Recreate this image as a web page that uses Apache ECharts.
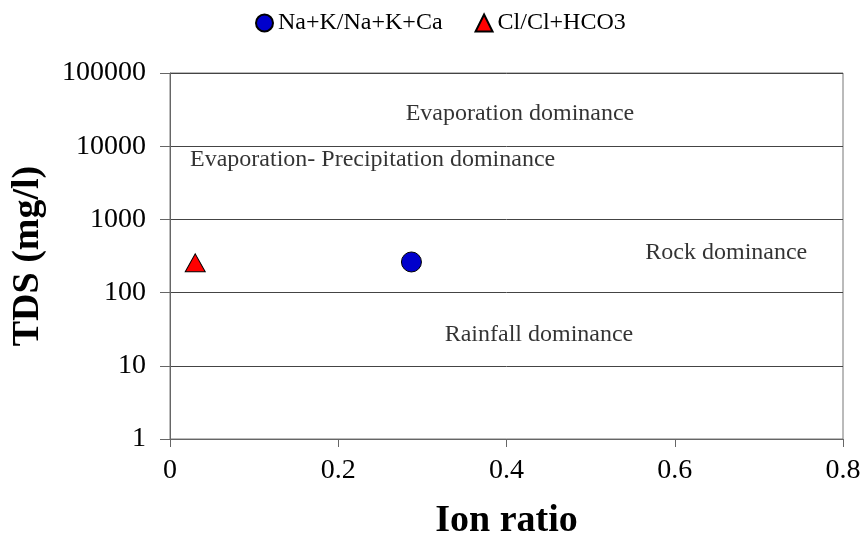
<!DOCTYPE html>
<html>
<head>
<meta charset="utf-8">
<script src="https://cdn.jsdelivr.net/npm/echarts@6/dist/echarts.min.js"></script>
<style>html,body{margin:0;padding:0;background:#fff}#c{width:863px;height:537px}</style>
</head>
<body>
<div id="c"></div>
<script>
const seriesNames = ['Na+K/Na+K+Ca', 'Cl/Cl+HCO3'];
const naKRatio = [[0.287, 262]];
const clRatio = [[0.03, 255]];
const zoneLabels = ['Evaporation dominance', 'Evaporation- Precipitation dominance', 'Rock dominance', 'Rainfall dominance'];
const zonePositions = [[0.416, 28000], [0.0238, 6500], [0.565, 350], [0.4386, 27]];
const zoneAlign = ['center', 'left', 'left', 'center'];
const xTicks = [0, 0.2, 0.4, 0.6, 0.8];
const yTicks = [1, 10, 100, 1000, 10000, 100000];

const font = '"Liberation Serif", "Times New Roman", serif';
const chart = echarts.init(document.getElementById('c'));
chart.setOption({
  animation: false,
  textStyle: { fontFamily: font },
  legend: {
    top: 6, left: 250,
    itemWidth: 17, itemHeight: 17, itemGap: 32,
    textStyle: { fontFamily: font, fontSize: 24, color: '#000' },
    data: seriesNames
  },
  grid: { left: 170, right: 20, top: 73, bottom: 98, show: true, borderColor: '#777', borderWidth: 1,
    containLabel: false, outerBoundsMode: 'none' },
  xAxis: {
    type: 'value', min: xTicks[0], max: xTicks[xTicks.length - 1], interval: 0.2,
    name: 'Ion ratio', nameLocation: 'middle', nameGap: 63,
    nameTextStyle: { fontFamily: font, fontSize: 38, fontWeight: 'bold', color: '#000' },
    axisLine: { lineStyle: { color: '#666' } },
    axisTick: { show: true, length: 8, lineStyle: { color: '#666' } },
    axisLabel: { fontFamily: font, fontSize: 28, color: '#000', margin: 18 },
    splitLine: { show: false }
  },
  yAxis: {
    type: 'log', logBase: 10, min: yTicks[0], max: yTicks[yTicks.length - 1],
    name: 'TDS (mg/l)', nameLocation: 'middle', nameGap: 123,
    nameTextStyle: { fontFamily: font, fontSize: 38, fontWeight: 'bold', color: '#000' },
    axisLine: { show: true, lineStyle: { color: '#666' } },
    axisTick: { show: true, inside: false, length: 10, lineStyle: { color: '#666' } },
    axisLabel: { fontFamily: font, fontSize: 28, color: '#000', margin: 24,
      formatter: v => String(Math.round(v)) },
    splitLine: { show: true, lineStyle: { color: '#444', width: 1 } },
    minorTick: { show: false }
  },
  series: [
    {
      name: seriesNames[0], type: 'scatter', data: naKRatio,
      symbol: 'circle', symbolSize: 20,
      itemStyle: { color: '#0000CC', borderColor: '#000', borderWidth: 1, opacity: 1 }
    },
    {
      name: seriesNames[1], type: 'scatter', data: clRatio,
      symbol: 'triangle', symbolSize: [20, 18],
      itemStyle: { color: '#FF0000', borderColor: '#000', borderWidth: 1, opacity: 1 }
    },
    {
      type: 'scatter', symbolSize: 0, silent: true, legendHoverLink: false,
      data: zoneLabels.map((t, i) => ({
        value: zonePositions[i],
        label: { show: true, formatter: t, position: 'inside', align: zoneAlign[i], verticalAlign: 'middle',
          fontFamily: font, fontSize: 24, color: '#000' }
      })),
      tooltip: { show: false }
    }
  ]
});
</script>
</body>
</html>
